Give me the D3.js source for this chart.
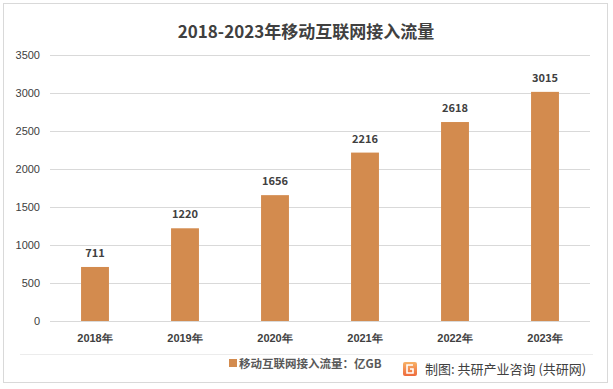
<!DOCTYPE html>
<meta charset="utf-8">
<head>
	<title>2018-2023年移动互联网接入流量</title>
</head>
<style>
body{
	margin: 0;
	background: #fff;
}
svg{
	font-family: "Noto Sans CJK SC", "Noto Sans", sans-serif;
}
.tick line{
	stroke: #d9d9d9;
}
.tick text{
	fill: #404040;
	font-size: 11px;
}
</style>
<body>
<svg width="613" height="389"></svg>

<script src="https://cdnjs.cloudflare.com/ajax/libs/d3/7.8.5/d3.min.js"></script>
<script>

var years = ['2018年', '2019年', '2020年', '2021年', '2022年', '2023年'];
var traffic = [711, 1220, 1656, 2216, 2618, 3015];
var y_ticks = [0, 500, 1000, 1500, 2000, 2500, 3000, 3500];

var svg = d3.select('svg');

// 外枠
svg.append('rect')
	.attr('x', 3.5).attr('y', 3.5)
	.attr('width', 604).attr('height', 379)
	.attr('fill', 'none')
	.attr('stroke', '#d9d9d9');

svg.append('line')
	.attr('x1', 20).attr('x2', 593)
	.attr('y1', 354.5).attr('y2', 354.5)
	.attr('stroke', '#ececec');

svg.append('text')
	.attr('x', 306).attr('y', 38)
	.attr('text-anchor', 'middle')
	.attr('font-size', 17)
	.attr('font-weight', 'bold')
	.attr('fill', '#404040')
	.text('2018-2023年移动互联网接入流量');

var x = d3.scaleBand()
	.domain(years)
	.range([50, 590])
	.paddingInner(0.69)
	.paddingOuter(0.345);

var y = d3.scaleLinear()
	.domain([0, 3500])
	.range([321, 55]);

// グリッド
svg.append('g')
	.attr('transform', 'translate(50,0)')
	.call(d3.axisLeft(y).tickValues(y_ticks).tickFormat(d3.format('d')).tickSize(-540).tickPadding(10))
	.call(function(g){ g.select('.domain').remove(); })
	.selectAll('.tick text').attr('x', -10);

svg.append('g')
	.selectAll('rect')
	.data(traffic)
	.enter()
	.append('rect')
	.attr('x', function(d, i){ return x(years[i]); })
	.attr('y', function(d){ return y(d); })
	.attr('width', x.bandwidth())
	.attr('height', function(d){ return y(0) - y(d); })
	.attr('fill', '#d38b4e');

svg.append('g')
	.selectAll('text')
	.data(traffic)
	.enter()
	.append('text')
	.attr('x', function(d, i){ return x(years[i]) + x.bandwidth() / 2; })
	.attr('y', function(d){ return y(d) - 10; })
	.attr('text-anchor', 'middle')
	.attr('font-size', 11)
	.attr('font-weight', 'bold')
	.attr('fill', '#404040')
	.text(function(d){ return d; });

svg.append('g')
	.attr('transform', 'translate(0,321)')
	.call(d3.axisBottom(x).tickSize(0).tickPadding(13))
	.call(function(g){ g.select('.domain').remove(); })
	.selectAll('.tick text')
	.attr('font-weight', 'bold')
	.style('font-size', '11px');

// 凡例
svg.append('rect')
	.attr('x', 229).attr('y', 359)
	.attr('width', 8).attr('height', 8)
	.attr('fill', '#d38b4e');

svg.append('text')
	.attr('x', 239).attr('y', 368)
	.attr('font-size', 11.5)
	.attr('font-weight', 'bold')
	.attr('fill', '#595959')
	.text('移动互联网接入流量：亿GB');

// ロゴ
var logo = svg.append('defs').append('linearGradient')
	.attr('id', 'lg').attr('x1', 0).attr('y1', 0).attr('x2', 0).attr('y2', 1);
logo.append('stop').attr('offset', 0).attr('stop-color', '#f7b267');
logo.append('stop').attr('offset', 1).attr('stop-color', '#ee6a3c');

svg.append('rect')
	.attr('x', 403).attr('y', 362)
	.attr('width', 14).attr('height', 14)
	.attr('rx', 2)
	.attr('fill', 'url(#lg)');
svg.append('path')
	.attr('d', 'M413,365 H407 V373 H413 V369 H410')
	.attr('fill', 'none')
	.attr('stroke', '#fff')
	.attr('stroke-width', 1.6);

svg.append('text')
	.attr('x', 425).attr('y', 374)
	.attr('font-size', 13)
	.attr('fill', '#404040')
	.text('制图: 共研产业咨询 (共研网)');

</script>
</body>
</html>
